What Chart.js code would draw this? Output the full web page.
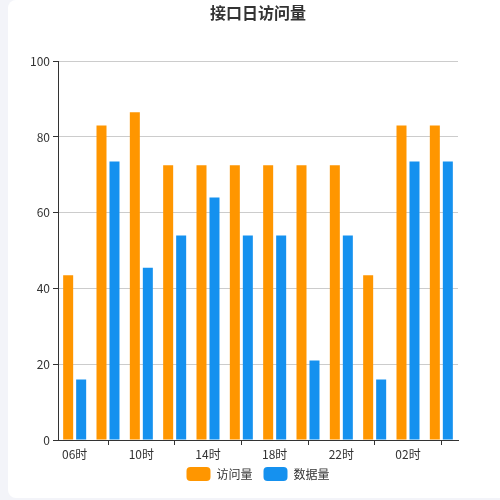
<!DOCTYPE html>
<html>
<head>
<meta charset="utf-8">
<script src="https://cdn.jsdelivr.net/npm/chart.js@4/dist/chart.umd.min.js"></script>
<style>
  html, body { margin: 0; padding: 0; background: #f3f4f9; overflow: hidden; width: 500px; height: 500px; }
  #card { position: absolute; left: 8px; top: 0; width: 500px; height: 498px; background: #fff; border-radius: 8px; overflow: hidden; }
  #c { display: block; }
</style>
</head>
<body>
<div id="card"><canvas id="c" width="500" height="498"></canvas></div>
<script>
const categories = ['06时','08时','10时','12时','14时','16时','18时','20时','22时','00时','02时','04时'];
const visits = [43.5, 83, 86.5, 72.5, 72.5, 72.5, 72.5, 72.5, 72.5, 43.5, 83, 83];
const dataVolume = [16, 73.5, 45.5, 54, 64, 54, 54, 21, 54, 16, 73.5, 73.5];
const yTicks = [0, 20, 40, 60, 80, 100];
const seriesNames = ['访问量', '数据量'];

const FONT = "'Noto Sans CJK SC', 'Liberation Sans', sans-serif";

new Chart(document.getElementById('c'), {
  type: 'bar',
  data: {
    labels: categories,
    datasets: [
      { label: seriesNames[0], data: visits, backgroundColor: '#ff9600', categoryPercentage: 0.78, barPercentage: 0.77 },
      { label: seriesNames[1], data: dataVolume, backgroundColor: '#1591ef', categoryPercentage: 0.78, barPercentage: 0.77 }
    ]
  },
  options: {
    responsive: false,
    animation: false,
    layout: { padding: { left: 0, right: 0, top: 0, bottom: 7 } },
    plugins: {
      title: {
        display: true,
        text: '接口日访问量',
        color: '#333',
        font: { family: FONT, size: 16, weight: 'bold' },
        padding: { top: 3, bottom: 39 }
      },
      legend: {
        position: 'bottom',
        labels: {
          color: '#333',
          font: { family: FONT, size: 12 },
          boxWidth: 24,
          boxHeight: 14,
          useBorderRadius: true,
          borderRadius: 4,
          padding: 5,
          generateLabels: (chart) => {
            const items = Chart.defaults.plugins.legend.labels.generateLabels(chart);
            items.forEach((it, i) => { if (i < items.length - 1) it.text = it.text + '\u2002'; });
            return items;
          }
        }
      },
      tooltip: { enabled: false }
    },
    scales: {
      x: {
        offset: true,
        afterFit: (s) => { s.height = 22; },
        grid: {
          offset: false,
          drawOnChartArea: false,
          drawTicks: true,
          tickLength: 5,
          tickColor: (ctx) => (ctx.index % 2 === 1 ? '#333' : 'rgba(0,0,0,0)')
        },
        border: { color: '#333', width: 1 },
        ticks: {
          autoSkip: false,
          maxRotation: 0,
          color: '#333',
          padding: 2,
          font: { family: FONT, size: 12 },
          callback: function (v, i) { return i % 2 === 0 ? categories[i] : ''; }
        }
      },
      y: {
        min: yTicks[0],
        max: yTicks[yTicks.length - 1],
        afterBuildTicks: (s) => { s.ticks = yTicks.map(v => ({ value: v })); },
        afterFit: (s) => { s.width = 50; },
        grid: { color: '#ccc', tickColor: '#333', tickLength: 5 },
        border: { color: '#333', width: 1 },
        ticks: {
          color: '#333',
          padding: 3,
          font: { family: FONT, size: 12 }
        }
      },
      spacer: {
        position: 'right',
        display: true,
        min: 0,
        max: 100,
        afterFit: (s) => { s.width = 50; },
        grid: { display: false, drawOnChartArea: false },
        border: { display: false },
        ticks: { display: false }
      }
    }
  }
});
</script>
</body>
</html>
